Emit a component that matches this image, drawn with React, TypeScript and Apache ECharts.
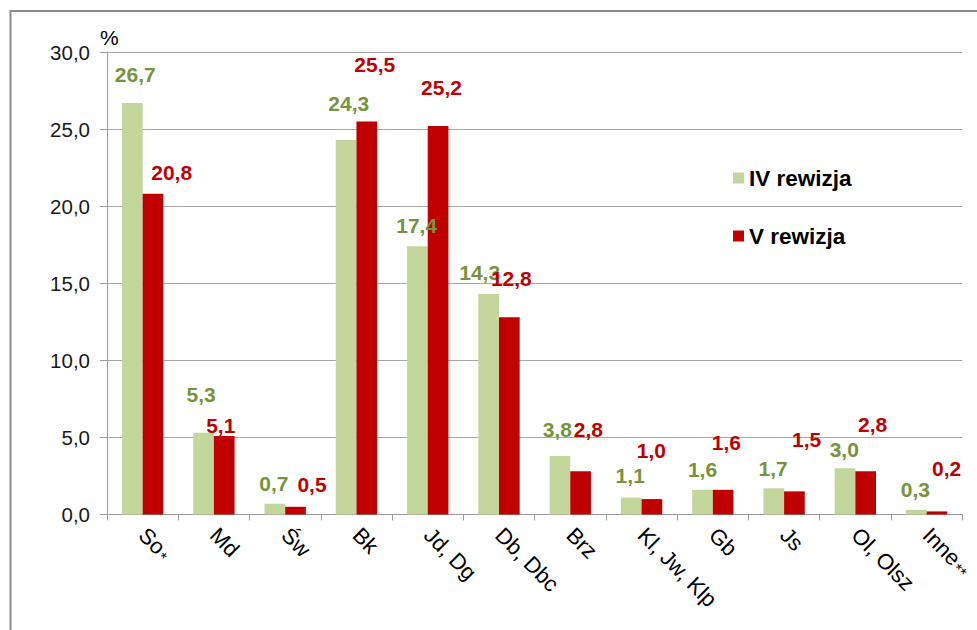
import React, { useEffect, useRef } from "react";
import * as echarts from "echarts";

const categories = ["So*", "Md", "Św", "Bk", "Jd, Dg", "Db, Dbc", "Brz", "Kl, Jw, Klp", "Gb", "Js", "Ol, Olsz", "Inne**"];
const seriesNames = ["IV rewizja", "V rewizja"];
const valuesIV = [26.7, 5.3, 0.7, 24.3, 17.4, 14.3, 3.8, 1.1, 1.6, 1.7, 3.0, 0.3];
const valuesV = [20.8, 5.1, 0.5, 25.5, 25.2, 12.8, 2.8, 1.0, 1.6, 1.5, 2.8, 0.2];
const yTicks = [0, 5, 10, 15, 20, 25, 30];

// label placement (style only): [dx, height of label centre above bar top]
const labelShiftIV = [[3, 28], [-2.5, 38], [-1, 20], [2.6, 36], [-0.75, 20.4], [-9, 21.5], [-2.5, 26.6], [-1, 21.7], [0, 20.6], [-0.6, 19.8], [-0.75, 19], [-1, 20]];
const labelShiftV = [[18.7, 21.8], [-3.5, 10], [16.5, 21.8], [8, 56.6], [3.5, 38.5], [2, 38.2], [7.7, 42], [-0.5, 49], [3.3, 47.3], [12.2, 52.2], [7, 46.6], [9.6, 43]];

const FONT = "'Liberation Sans', Arial, sans-serif";
const fmt = (v: number) => v.toFixed(1).replace(".", ",");

export default function App() {
  const ref = useRef<HTMLDivElement>(null);
  useEffect(() => {
    if (!ref.current) return;
    const chart = echarts.init(ref.current, null, { renderer: "svg" });
    const LABEL_FS = 21;
    const mk = (vals: number[], shifts: number[][]) =>
      vals.map((v, i) => ({
        value: v,
        label: { offset: [shifts[i][0], -(shifts[i][1] - LABEL_FS / 2)] },
      }));
    chart.setOption({
      animation: false,
      textStyle: { fontFamily: FONT },
      graphic: [
        {
          type: "rect",
          shape: { x: 10.5, y: 11, width: 1100, height: 800 },
          style: { fill: "none", stroke: "#8a8a8a", lineWidth: 2 },
          z: 0,
        },
      ],
      legend: {
        orient: "vertical",
        left: 733,
        top: 166,
        padding: 0,
        itemWidth: 11,
        itemHeight: 11,
        itemGap: 34,
        icon: "rect",
        data: seriesNames,
        textStyle: { fontFamily: FONT, fontSize: 22.5, fontWeight: "bold", color: "#000", lineHeight: 24 },
      },
      grid: { left: 107, right: 14, top: 52, bottom: 115.5 },
      xAxis: {
        type: "category",
        data: categories,
        axisLine: { show: true, lineStyle: { color: "#9a9a9a", width: 1 } },
        axisTick: { show: true, length: 6, interval: 0, lineStyle: { color: "#9a9a9a" } },
        axisLabel: {
          interval: 0,
          rotate: -45,
          margin: 17,
          fontFamily: FONT,
          fontSize: 22,
          color: "#000",
          formatter: (s: string) => s.replace(/(\*+)/, "{a|$1}"),
          rich: { a: { fontSize: 16, fontFamily: FONT, color: "#000", padding: [9, 0, 0, 2] } },
        },
      },
      yAxis: {
        type: "value",
        min: 0,
        max: 30,
        interval: 5,
        name: "%",
        nameLocation: "end",
        nameGap: 4,
        nameTextStyle: { fontFamily: FONT, fontSize: 21, color: "#000", align: "left", padding: [0, 0, 0, -7] },
        axisLine: { show: true, lineStyle: { color: "#9a9a9a", width: 1 } },
        axisTick: { show: true, length: 7, lineStyle: { color: "#9a9a9a" } },
        splitLine: { show: true, lineStyle: { color: "#a6a6a6", width: 1 } },
        axisLabel: {
          margin: 17,
          fontFamily: FONT,
          fontSize: 20.5,
          color: "#1a1a1a",
          formatter: (v: number) => fmt(v),
          customValues: yTicks,
        },
      },
      series: [
        {
          name: seriesNames[0],
          type: "bar",
          data: mk(valuesIV, labelShiftIV),
          barGap: "0%",
          barCategoryGap: "42%",
          itemStyle: { color: "#C3D69B" },
          label: {
            show: true,
            position: "top",
            distance: 0,
            fontFamily: FONT,
            fontSize: LABEL_FS,
            fontWeight: "bold",
            color: "#77933C",
            formatter: (p: any) => fmt(p.value),
          },
          z: 2,
        },
        {
          name: seriesNames[1],
          type: "bar",
          data: mk(valuesV, labelShiftV),
          barGap: "0%",
          barCategoryGap: "42%",
          itemStyle: { color: "#C00000" },
          label: {
            show: true,
            position: "top",
            distance: 0,
            fontFamily: FONT,
            fontSize: LABEL_FS,
            fontWeight: "bold",
            color: "#C00000",
            formatter: (p: any) => fmt(p.value),
          },
          z: 2,
        },
      ],
    });
    return () => chart.dispose();
  }, []);
  return (
    <div
      ref={ref}
      style={{ position: "fixed", left: 0, top: 0, width: 977, height: 630, background: "#fff" }}
    />
  );
}
